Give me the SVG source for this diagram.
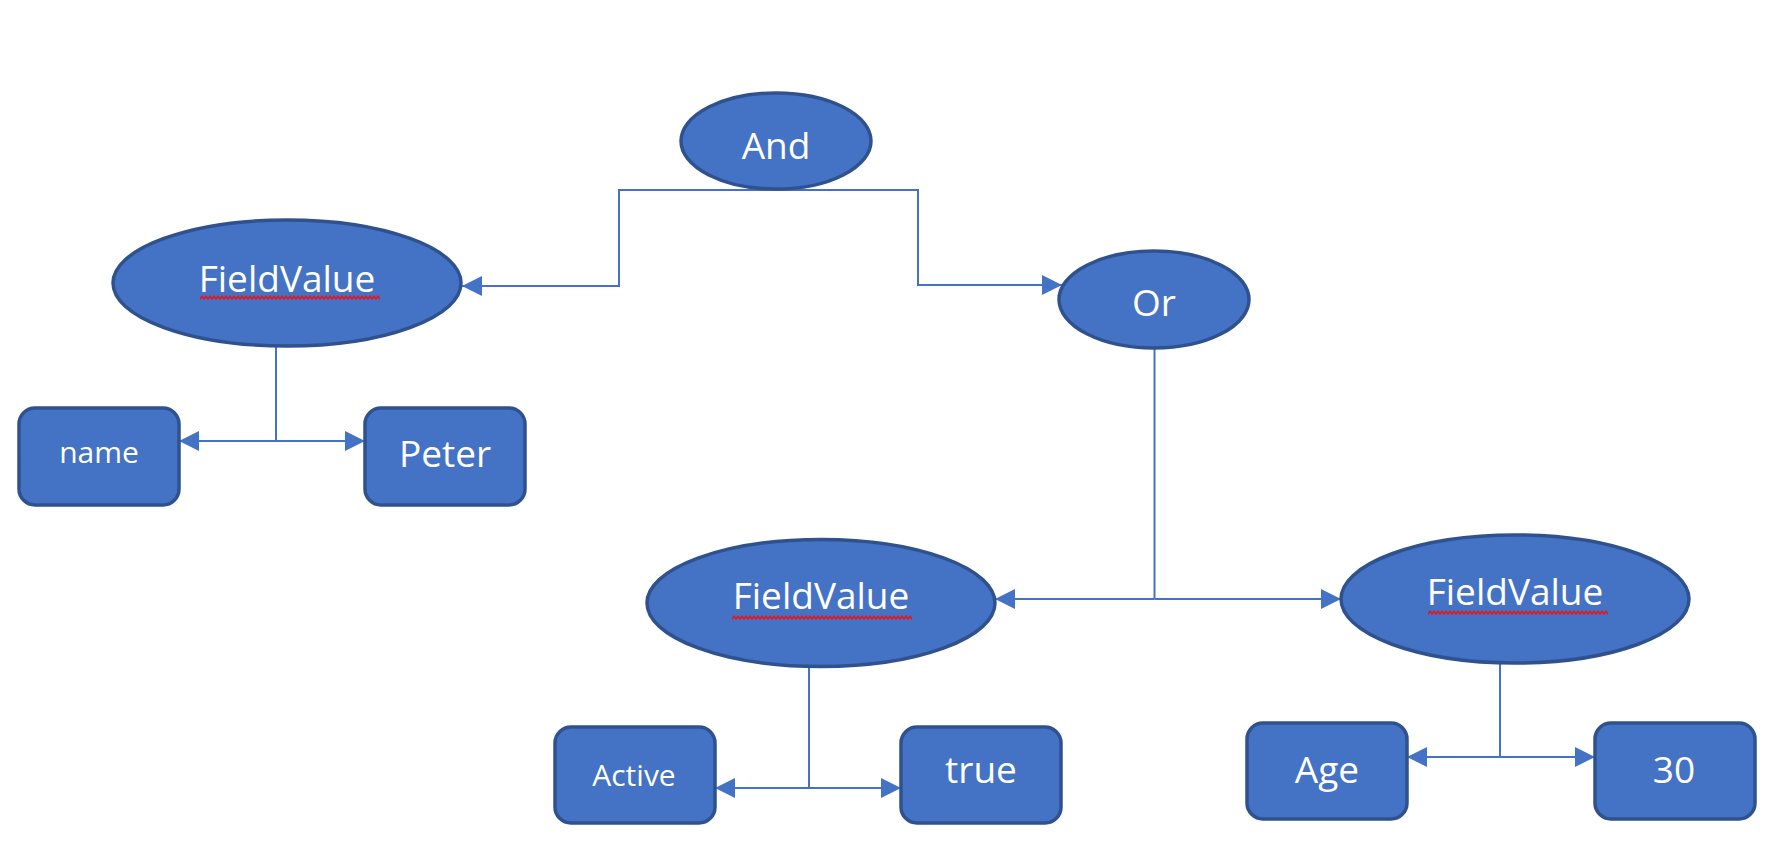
<svg xmlns="http://www.w3.org/2000/svg" width="1780" height="860" viewBox="0 0 1780 860">
  <style>
    .node { fill: #4472C4; stroke: #2F528F; stroke-width: 3.5; }
    .lbl { fill: #FFFFFF; font-family: "Open Sans", "Noto Sans", "Liberation Sans", sans-serif; font-size: 37px; text-anchor: middle; }
    .sm { font-size: 30px; }
    .conn { fill: none; stroke: #4472C4; stroke-width: 2; }
    .arr { fill: none; stroke: #4472C4; stroke-width: 2; marker-end: url(#tri); }
    .squig { fill: url(#wave); }
  </style>
  <defs>
    <marker id="tri" viewBox="0 0 20 20" markerWidth="20" markerHeight="20" refX="20" refY="10" orient="auto" markerUnits="userSpaceOnUse">
      <path d="M0,0 L20,10 L0,20 z" fill="#4472C4"/>
    </marker>
    <pattern id="wave" width="4" height="5" patternUnits="userSpaceOnUse">
      <path d="M-2,2 L0,4 L2,1.2 L4,4 L6,1.2" fill="none" stroke="#E8141A" stroke-width="1.5"/>
    </pattern>
  </defs>
  <rect width="1780" height="860" fill="#FFFFFF"/>

  <g id="connectors">
    <!-- And to FieldValue (left) -->
    <path class="arr" d="M776,190 H619 V286 H462"/>
    <!-- And to Or -->
    <path class="arr" d="M776,190 H918 V285 H1062"/>
    <!-- FieldValue (left) to name / Peter -->
    <path class="conn" d="M276,346 V441"/>
    <path class="arr" d="M276,441 H179"/>
    <path class="arr" d="M276,441 H365"/>
    <!-- Or to FieldValue (middle) / FieldValue (right) -->
    <path class="conn" d="M1154.5,348 V599"/>
    <path class="arr" d="M1154.5,599 H995"/>
    <path class="arr" d="M1154.5,599 H1341"/>
    <!-- FieldValue (middle) to Active / true -->
    <path class="conn" d="M809,667 V788"/>
    <path class="arr" d="M809,788 H715"/>
    <path class="arr" d="M809,788 H901"/>
    <!-- FieldValue (right) to Age / 30 -->
    <path class="conn" d="M1500,663 V757"/>
    <path class="arr" d="M1500,757 H1407"/>
    <path class="arr" d="M1500,757 H1595"/>
  </g>

  <g id="and">
    <ellipse class="node" cx="776" cy="141" rx="95" ry="48"/>
    <text class="lbl" x="776" y="159">And</text>
  </g>

  <g id="or">
    <ellipse class="node" cx="1154" cy="299.5" rx="95" ry="48.5"/>
    <text class="lbl" x="1154" y="316">Or</text>
  </g>

  <g id="fieldvalue-1">
    <ellipse class="node" cx="287" cy="283" rx="174" ry="63"/>
    <text class="lbl" x="287" y="292">FieldValue</text>
    <rect class="squig" x="200" y="295" width="180" height="5"/>
  </g>

  <g id="fieldvalue-2">
    <ellipse class="node" cx="821" cy="603" rx="174" ry="63.5"/>
    <text class="lbl" x="821" y="609">FieldValue</text>
    <rect class="squig" x="732" y="615" width="180" height="5"/>
  </g>

  <g id="fieldvalue-3">
    <ellipse class="node" cx="1515" cy="599" rx="174" ry="64"/>
    <text class="lbl" x="1515" y="605">FieldValue</text>
    <rect class="squig" x="1428" y="610" width="180" height="5"/>
  </g>

  <g id="name">
    <rect class="node" x="19" y="408" width="160" height="97" rx="16"/>
    <text class="lbl sm" x="99" y="463">name</text>
  </g>

  <g id="peter">
    <rect class="node" x="365" y="408" width="160" height="97" rx="16"/>
    <text class="lbl" x="445" y="467">Peter</text>
  </g>

  <g id="active">
    <rect class="node" x="555" y="727" width="160" height="96" rx="16"/>
    <text class="lbl sm" x="634" y="786">Active</text>
  </g>

  <g id="true">
    <rect class="node" x="901" y="727" width="160" height="96" rx="16"/>
    <text class="lbl" x="981" y="783">true</text>
  </g>

  <g id="age">
    <rect class="node" x="1247" y="723" width="160" height="96" rx="16"/>
    <text class="lbl" x="1327" y="783">Age</text>
  </g>

  <g id="thirty">
    <rect class="node" x="1595" y="723" width="160" height="96" rx="16"/>
    <text class="lbl" x="1674" y="783">30</text>
  </g>
</svg>
